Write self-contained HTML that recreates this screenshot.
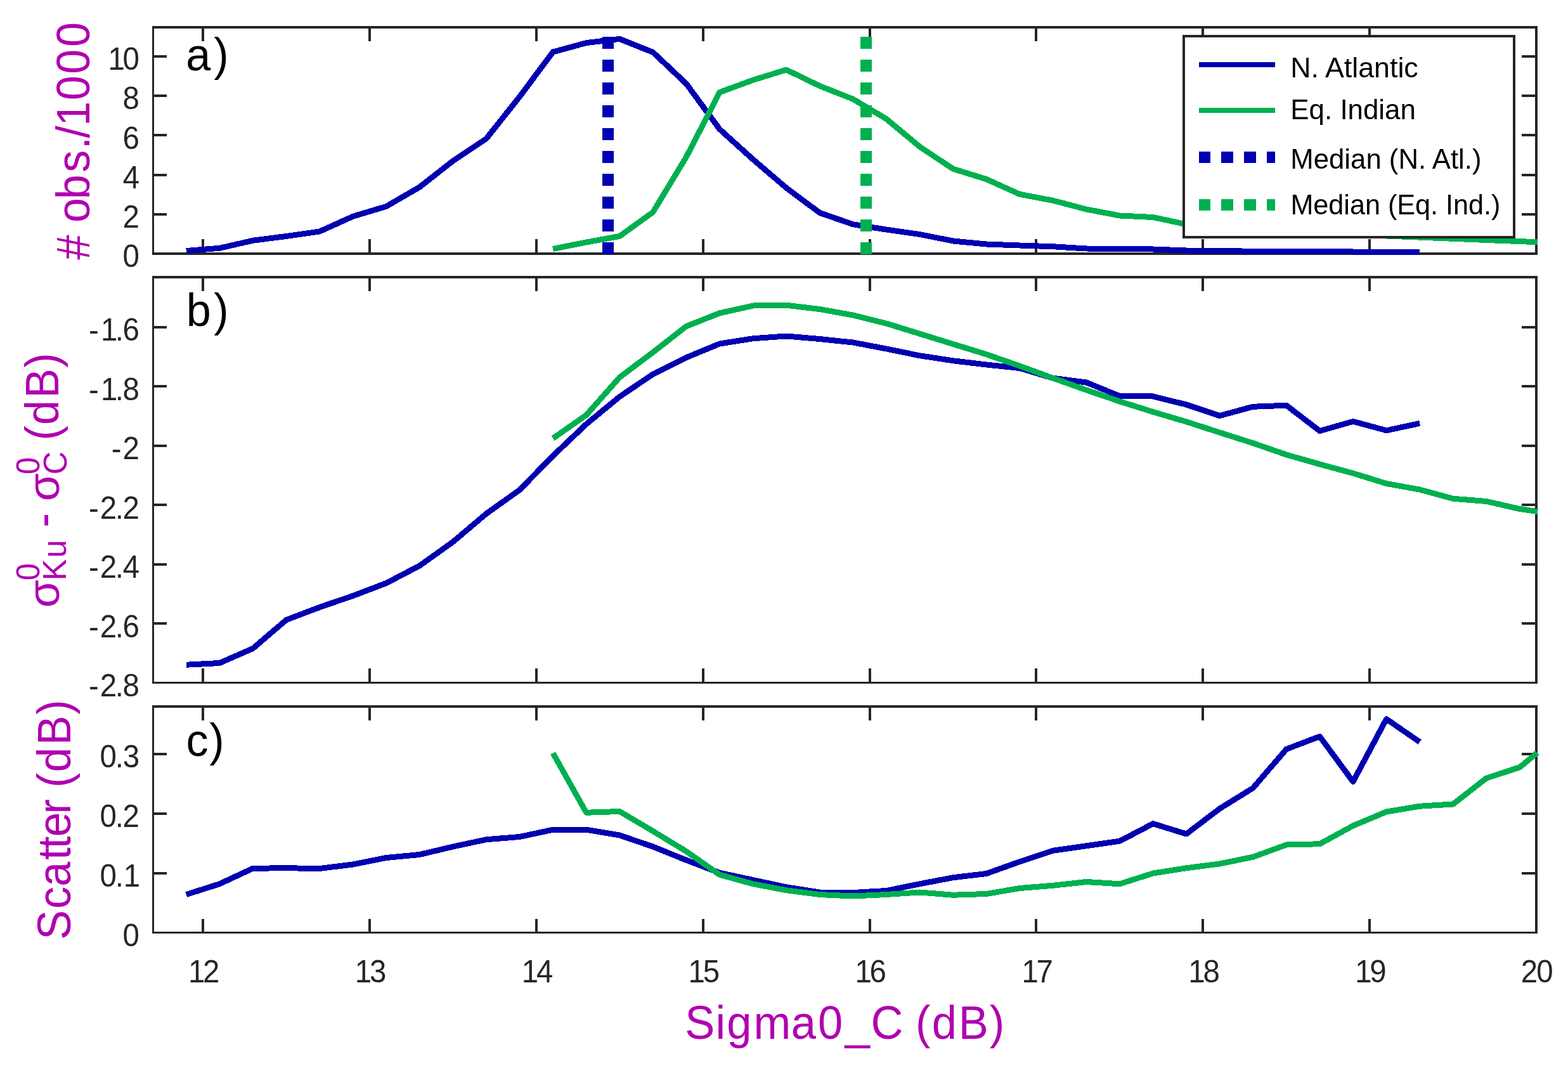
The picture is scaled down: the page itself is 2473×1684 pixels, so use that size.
<!DOCTYPE html>
<html lang="en">
<head>
<meta charset="utf-8">
<title>Sigma0 Ku-C difference: N. Atlantic vs Eq. Indian</title>
<style>
html,body{margin:0;padding:0;background:#fff;}
body{width:2473px;height:1684px;overflow:hidden;font-family:'Liberation Sans', sans-serif;}
svg{display:block;}
</style>
</head>
<body>
<svg xmlns="http://www.w3.org/2000/svg" width="2473" height="1684" viewBox="0 0 2473 1684">
<rect x="0" y="0" width="2473" height="1684" fill="#ffffff"/>
<g shape-rendering="crispEdges">
<rect x="240" y="41" width="2185" height="4" fill="#262626"/>
<rect x="240" y="398" width="2185" height="4" fill="#262626"/>
<rect x="240" y="41" width="3" height="361" fill="#262626"/>
<rect x="2421" y="41" width="4" height="361" fill="#262626"/>
<rect x="318" y="41" width="4" height="24" fill="#262626"/>
<rect x="318" y="377" width="4" height="25" fill="#262626"/>
<rect x="581" y="41" width="4" height="24" fill="#262626"/>
<rect x="581" y="377" width="4" height="25" fill="#262626"/>
<rect x="844" y="41" width="4" height="24" fill="#262626"/>
<rect x="844" y="377" width="4" height="25" fill="#262626"/>
<rect x="1107" y="41" width="4" height="24" fill="#262626"/>
<rect x="1107" y="377" width="4" height="25" fill="#262626"/>
<rect x="1370" y="41" width="4" height="24" fill="#262626"/>
<rect x="1370" y="377" width="4" height="25" fill="#262626"/>
<rect x="1632" y="41" width="4" height="24" fill="#262626"/>
<rect x="1632" y="377" width="4" height="25" fill="#262626"/>
<rect x="1895" y="41" width="4" height="24" fill="#262626"/>
<rect x="1895" y="377" width="4" height="25" fill="#262626"/>
<rect x="2158" y="41" width="4" height="24" fill="#262626"/>
<rect x="2158" y="377" width="4" height="25" fill="#262626"/>
<rect x="240" y="336" width="23" height="4" fill="#262626"/>
<rect x="2400" y="336" width="25" height="4" fill="#262626"/>
<rect x="240" y="274" width="23" height="4" fill="#262626"/>
<rect x="2400" y="274" width="25" height="4" fill="#262626"/>
<rect x="240" y="211" width="23" height="4" fill="#262626"/>
<rect x="2400" y="211" width="25" height="4" fill="#262626"/>
<rect x="240" y="149" width="23" height="4" fill="#262626"/>
<rect x="2400" y="149" width="25" height="4" fill="#262626"/>
<rect x="240" y="87" width="23" height="4" fill="#262626"/>
<rect x="2400" y="87" width="25" height="4" fill="#262626"/>
<rect x="240" y="435" width="2185" height="4" fill="#262626"/>
<rect x="240" y="1075" width="2185" height="3" fill="#262626"/>
<rect x="240" y="435" width="3" height="643" fill="#262626"/>
<rect x="2421" y="435" width="4" height="643" fill="#262626"/>
<rect x="318" y="435" width="4" height="24" fill="#262626"/>
<rect x="318" y="1054" width="4" height="24" fill="#262626"/>
<rect x="581" y="435" width="4" height="24" fill="#262626"/>
<rect x="581" y="1054" width="4" height="24" fill="#262626"/>
<rect x="844" y="435" width="4" height="24" fill="#262626"/>
<rect x="844" y="1054" width="4" height="24" fill="#262626"/>
<rect x="1107" y="435" width="4" height="24" fill="#262626"/>
<rect x="1107" y="1054" width="4" height="24" fill="#262626"/>
<rect x="1370" y="435" width="4" height="24" fill="#262626"/>
<rect x="1370" y="1054" width="4" height="24" fill="#262626"/>
<rect x="1632" y="435" width="4" height="24" fill="#262626"/>
<rect x="1632" y="1054" width="4" height="24" fill="#262626"/>
<rect x="1895" y="435" width="4" height="24" fill="#262626"/>
<rect x="1895" y="1054" width="4" height="24" fill="#262626"/>
<rect x="2158" y="435" width="4" height="24" fill="#262626"/>
<rect x="2158" y="1054" width="4" height="24" fill="#262626"/>
<rect x="240" y="514" width="23" height="4" fill="#262626"/>
<rect x="2400" y="514" width="25" height="4" fill="#262626"/>
<rect x="240" y="607" width="23" height="4" fill="#262626"/>
<rect x="2400" y="607" width="25" height="4" fill="#262626"/>
<rect x="240" y="701" width="23" height="4" fill="#262626"/>
<rect x="2400" y="701" width="25" height="4" fill="#262626"/>
<rect x="240" y="794" width="23" height="4" fill="#262626"/>
<rect x="2400" y="794" width="25" height="4" fill="#262626"/>
<rect x="240" y="888" width="23" height="4" fill="#262626"/>
<rect x="2400" y="888" width="25" height="4" fill="#262626"/>
<rect x="240" y="981" width="23" height="4" fill="#262626"/>
<rect x="2400" y="981" width="25" height="4" fill="#262626"/>
<rect x="240" y="1112" width="2185" height="4" fill="#262626"/>
<rect x="240" y="1469" width="2185" height="3" fill="#262626"/>
<rect x="240" y="1112" width="3" height="360" fill="#262626"/>
<rect x="2421" y="1112" width="4" height="360" fill="#262626"/>
<rect x="318" y="1112" width="4" height="24" fill="#262626"/>
<rect x="318" y="1449" width="4" height="23" fill="#262626"/>
<rect x="581" y="1112" width="4" height="24" fill="#262626"/>
<rect x="581" y="1449" width="4" height="23" fill="#262626"/>
<rect x="844" y="1112" width="4" height="24" fill="#262626"/>
<rect x="844" y="1449" width="4" height="23" fill="#262626"/>
<rect x="1107" y="1112" width="4" height="24" fill="#262626"/>
<rect x="1107" y="1449" width="4" height="23" fill="#262626"/>
<rect x="1370" y="1112" width="4" height="24" fill="#262626"/>
<rect x="1370" y="1449" width="4" height="23" fill="#262626"/>
<rect x="1632" y="1112" width="4" height="24" fill="#262626"/>
<rect x="1632" y="1449" width="4" height="23" fill="#262626"/>
<rect x="1895" y="1112" width="4" height="24" fill="#262626"/>
<rect x="1895" y="1449" width="4" height="23" fill="#262626"/>
<rect x="2158" y="1112" width="4" height="24" fill="#262626"/>
<rect x="2158" y="1449" width="4" height="23" fill="#262626"/>
<rect x="240" y="1375" width="23" height="4" fill="#262626"/>
<rect x="2400" y="1375" width="25" height="4" fill="#262626"/>
<rect x="240" y="1281" width="23" height="4" fill="#262626"/>
<rect x="2400" y="1281" width="25" height="4" fill="#262626"/>
<rect x="240" y="1187" width="23" height="4" fill="#262626"/>
<rect x="2400" y="1187" width="25" height="4" fill="#262626"/>
</g>
<defs>
<clipPath id="clipa"><rect x="240" y="41" width="2192" height="361"/></clipPath>
<clipPath id="clipb"><rect x="240" y="435" width="2192" height="643"/></clipPath>
<clipPath id="clipc"><rect x="240" y="1112" width="2192" height="360"/></clipPath>
</defs>
<g clip-path="url(#clipa)" shape-rendering="crispEdges">
<polyline points="293.71,395.50 346.29,391.25 398.87,379.25 451.45,372.50 504.03,365.00 556.61,341.25 609.19,325.50 661.77,295.00 714.35,253.75 766.93,218.75 819.51,152.50 872.09,82.00 924.67,67.60 977.25,61.40 1029.83,82.40 1082.41,132.00 1134.99,203.75 1187.57,251.25 1240.15,296.25 1292.73,335.50 1345.31,353.75 1397.89,362.00 1450.47,369.50 1503.05,380.00 1555.63,385.00 1608.21,387.00 1660.79,388.75 1713.37,392.00 1765.95,392.50 1818.53,393.00 1871.11,395.00 1923.69,395.50 1976.27,396.25 2028.85,396.50 2081.43,396.75 2134.01,397.00 2186.59,397.25 2239.17,397.50" fill="none" stroke="#0000b0" stroke-width="9.0" stroke-linejoin="round" stroke-linecap="butt" />
<polyline points="872.09,392.50 924.67,382.00 977.25,372.50 1029.83,334.50 1082.41,247.50 1134.99,145.50 1187.57,126.25 1240.15,110.00 1292.73,135.50 1345.31,156.25 1397.89,187.50 1450.47,231.25 1503.05,266.25 1555.63,282.50 1608.21,306.25 1660.79,316.25 1713.37,330.00 1765.95,340.00 1818.53,342.50 1871.11,353.75 1923.69,357.50 1976.27,361.00 2028.85,364.00 2081.43,367.00 2134.01,369.50 2186.59,372.00 2239.17,374.15 2291.75,376.30 2344.33,378.50 2396.91,380.60 2424.80,381.70" fill="none" stroke="#00b050" stroke-width="9.0" stroke-linejoin="round" stroke-linecap="butt" />
<rect x="949.90" y="58.00" width="18" height="18.8" fill="#0000b0"/>
<rect x="949.90" y="93.97" width="18" height="18.8" fill="#0000b0"/>
<rect x="949.90" y="129.94" width="18" height="18.8" fill="#0000b0"/>
<rect x="949.90" y="165.91" width="18" height="18.8" fill="#0000b0"/>
<rect x="949.90" y="201.88" width="18" height="18.8" fill="#0000b0"/>
<rect x="949.90" y="237.85" width="18" height="18.8" fill="#0000b0"/>
<rect x="949.90" y="273.82" width="18" height="18.8" fill="#0000b0"/>
<rect x="949.90" y="309.79" width="18" height="18.8" fill="#0000b0"/>
<rect x="949.90" y="345.76" width="18" height="18.8" fill="#0000b0"/>
<rect x="949.90" y="381.73" width="18" height="18.8" fill="#0000b0"/>
<rect x="1356.75" y="58.00" width="18" height="18.8" fill="#00b050"/>
<rect x="1356.75" y="93.97" width="18" height="18.8" fill="#00b050"/>
<rect x="1356.75" y="129.94" width="18" height="18.8" fill="#00b050"/>
<rect x="1356.75" y="165.91" width="18" height="18.8" fill="#00b050"/>
<rect x="1356.75" y="201.88" width="18" height="18.8" fill="#00b050"/>
<rect x="1356.75" y="237.85" width="18" height="18.8" fill="#00b050"/>
<rect x="1356.75" y="273.82" width="18" height="18.8" fill="#00b050"/>
<rect x="1356.75" y="309.79" width="18" height="18.8" fill="#00b050"/>
<rect x="1356.75" y="345.76" width="18" height="18.8" fill="#00b050"/>
<rect x="1356.75" y="381.73" width="18" height="18.8" fill="#00b050"/>
</g>
<g clip-path="url(#clipb)" shape-rendering="crispEdges">
<polyline points="293.71,1048.25 346.29,1045.50 398.87,1022.50 451.45,977.50 504.03,957.50 556.61,939.50 609.19,919.50 661.77,892.00 714.35,854.50 766.93,810.00 819.51,772.50 872.09,718.75 924.67,668.75 977.25,625.50 1029.83,590.00 1082.41,563.75 1134.99,542.00 1187.57,533.75 1240.15,530.00 1292.73,534.50 1345.31,540.00 1397.89,550.00 1450.47,560.75 1503.05,568.75 1555.63,575.00 1608.21,580.50 1660.79,596.25 1713.37,603.00 1765.95,624.50 1818.53,625.00 1871.11,638.00 1923.69,655.50 1976.27,641.25 2028.85,639.25 2081.43,679.50 2134.01,664.50 2186.59,678.75 2239.17,667.50" fill="none" stroke="#0000b0" stroke-width="9.0" stroke-linejoin="round" stroke-linecap="butt" />
<polyline points="872.09,691.25 924.67,654.50 977.25,595.00 1029.83,555.50 1082.41,514.50 1134.99,493.75 1187.57,482.00 1240.15,481.25 1292.73,487.50 1345.31,497.00 1397.89,510.00 1450.47,526.25 1503.05,542.50 1555.63,558.75 1608.21,577.00 1660.79,596.25 1713.37,615.00 1765.95,633.00 1818.53,649.50 1871.11,665.00 1923.69,682.00 1976.27,698.75 2028.85,717.00 2081.43,732.00 2134.01,746.25 2186.59,762.50 2239.17,772.00 2291.75,786.25 2344.33,790.50 2396.91,802.50 2425.10,806.60" fill="none" stroke="#00b050" stroke-width="9.0" stroke-linejoin="round" stroke-linecap="butt" />
</g>
<g clip-path="url(#clipc)" shape-rendering="crispEdges">
<polyline points="293.71,1410.50 346.29,1393.75 398.87,1369.25 451.45,1368.75 504.03,1369.50 556.61,1363.00 609.19,1352.50 661.77,1347.50 714.35,1335.00 766.93,1323.75 819.51,1319.50 872.09,1308.25 924.67,1308.25 977.25,1317.00 1029.83,1335.00 1082.41,1356.25 1134.99,1376.25 1187.57,1387.50 1240.15,1398.75 1292.73,1407.00 1345.31,1407.50 1397.89,1404.50 1450.47,1393.75 1503.05,1383.75 1555.63,1377.50 1608.21,1358.75 1660.79,1341.25 1713.37,1333.75 1765.95,1326.25 1818.53,1298.75 1871.11,1315.00 1923.69,1275.00 1976.27,1242.50 2028.85,1181.25 2081.43,1161.25 2134.01,1232.50 2186.59,1133.75 2239.17,1170.00" fill="none" stroke="#0000b0" stroke-width="9.0" stroke-linejoin="round" stroke-linecap="butt" />
<polyline points="872.09,1187.50 924.67,1281.25 977.25,1279.50 1029.83,1310.50 1082.41,1342.50 1134.99,1379.25 1187.57,1393.75 1240.15,1403.75 1292.73,1410.50 1345.31,1413.00 1397.89,1410.50 1450.47,1407.00 1503.05,1411.25 1555.63,1409.50 1608.21,1400.50 1660.79,1396.25 1713.37,1390.50 1765.95,1393.75 1818.53,1377.00 1871.11,1368.75 1923.69,1362.00 1976.27,1351.25 2028.85,1332.00 2081.43,1330.75 2134.01,1302.00 2186.59,1280.00 2239.17,1271.25 2291.75,1268.00 2344.33,1227.00 2396.91,1209.80 2424.60,1186.90" fill="none" stroke="#00b050" stroke-width="9.0" stroke-linejoin="round" stroke-linecap="butt" />
</g>
<g shape-rendering="crispEdges">
<rect x="1865" y="55" width="525" height="321" fill="#262626"/>
<rect x="1869" y="59" width="517" height="313" fill="#ffffff"/>
<rect x="1891" y="97.5" width="120" height="8.5" fill="#0000b0"/>
<rect x="1891" y="169.5" width="120" height="8.5" fill="#00b050"/>
<rect x="1891" y="239.2" width="18" height="18" fill="#0000b0"/>
<rect x="1926" y="239.2" width="19" height="18" fill="#0000b0"/>
<rect x="1962" y="239.2" width="19" height="18" fill="#0000b0"/>
<rect x="1998" y="239.2" width="13" height="18" fill="#0000b0"/>
<rect x="1891" y="314.1" width="18" height="18" fill="#00b050"/>
<rect x="1926" y="314.1" width="19" height="18" fill="#00b050"/>
<rect x="1962" y="314.1" width="19" height="18" fill="#00b050"/>
<rect x="1998" y="314.1" width="13" height="18" fill="#00b050"/>
</g>
<g font-family="'Liberation Sans', sans-serif" xml:space="preserve">
<text transform="translate(193.52,421.20) scale(0.9600,1.0000)" x="0.00" y="0" font-size="49.4" fill="#262626">0</text>
<text transform="translate(193.57,359.00) scale(0.9600,1.0000)" x="0.00" y="0" font-size="49.4" fill="#262626">2</text>
<text transform="translate(193.76,296.80) scale(0.9600,1.0000)" x="0.00" y="0" font-size="49.4" fill="#262626">4</text>
<text transform="translate(193.42,234.60) scale(0.9600,1.0000)" x="0.00" y="0" font-size="49.4" fill="#262626">6</text>
<text transform="translate(193.57,172.40) scale(0.9600,1.0000)" x="0.00" y="0" font-size="49.4" fill="#262626">8</text>
<text transform="translate(170.43,110.20) scale(0.9600,1.0000)" x="0.00 24.06" y="0" font-size="49.4" fill="#262626">10</text>
<text transform="translate(139.88,537.10) scale(0.9600,1.0000)" x="0.00 19.84 43.57 55.78" y="0" font-size="49.4" fill="#262626">-1.6</text>
<text transform="translate(139.88,630.60) scale(0.9600,1.0000)" x="0.00 19.84 43.57 55.93" y="0" font-size="49.4" fill="#262626">-1.8</text>
<text transform="translate(175.78,724.10) scale(0.9600,1.0000)" x="0.00 18.53" y="0" font-size="49.4" fill="#262626">-2</text>
<text transform="translate(139.88,817.60) scale(0.9600,1.0000)" x="0.00 18.53 43.57 55.93" y="0" font-size="49.4" fill="#262626">-2.2</text>
<text transform="translate(139.88,911.10) scale(0.9600,1.0000)" x="0.00 18.53 43.57 56.12" y="0" font-size="49.4" fill="#262626">-2.4</text>
<text transform="translate(139.88,1004.60) scale(0.9600,1.0000)" x="0.00 18.53 43.57 55.78" y="0" font-size="49.4" fill="#262626">-2.6</text>
<text transform="translate(139.88,1098.10) scale(0.9600,1.0000)" x="0.00 18.53 43.57 55.93" y="0" font-size="49.4" fill="#262626">-2.8</text>
<text transform="translate(193.52,1491.60) scale(0.9600,1.0000)" x="0.00" y="0" font-size="49.4" fill="#262626">0</text>
<text transform="translate(157.62,1397.75) scale(0.9600,1.0000)" x="0.00 25.09 38.76" y="0" font-size="49.4" fill="#262626">0.1</text>
<text transform="translate(157.62,1303.90) scale(0.9600,1.0000)" x="0.00 25.09 37.45" y="0" font-size="49.4" fill="#262626">0.2</text>
<text transform="translate(157.62,1210.05) scale(0.9600,1.0000)" x="0.00 25.09 37.59" y="0" font-size="49.4" fill="#262626">0.3</text>
<text transform="translate(296.88,1549.00) scale(0.9600,1.0000)" x="0.00 24.10" y="0" font-size="49.4" fill="#262626">12</text>
<text transform="translate(559.78,1549.00) scale(0.9600,1.0000)" x="0.00 24.25" y="0" font-size="49.4" fill="#262626">13</text>
<text transform="translate(822.68,1549.00) scale(0.9600,1.0000)" x="0.00 24.30" y="0" font-size="49.4" fill="#262626">14</text>
<text transform="translate(1085.58,1549.00) scale(0.9600,1.0000)" x="0.00 24.15" y="0" font-size="49.4" fill="#262626">15</text>
<text transform="translate(1348.48,1549.00) scale(0.9600,1.0000)" x="0.00 23.96" y="0" font-size="49.4" fill="#262626">16</text>
<text transform="translate(1611.38,1549.00) scale(0.9600,1.0000)" x="0.00 24.06" y="0" font-size="49.4" fill="#262626">17</text>
<text transform="translate(1874.28,1549.00) scale(0.9600,1.0000)" x="0.00 24.10" y="0" font-size="49.4" fill="#262626">18</text>
<text transform="translate(2137.18,1549.00) scale(0.9600,1.0000)" x="0.00 24.15" y="0" font-size="49.4" fill="#262626">19</text>
<text transform="translate(2398.82,1549.00) scale(0.9600,1.0000)" x="0.00 25.37" y="0" font-size="49.4" fill="#262626">20</text>
<text transform="translate(140.90,409.54) rotate(-90) scale(0.9350,1.0000)" x="0.00 41.71 62.57 101.90 147.43 186.41 205.18 225.46 268.70 313.24 358.91" y="0" font-size="75" fill="#b000b0"># obs./1000</text>
<text transform="translate(110.90,1481.72) rotate(-90) scale(0.9350,1.0000)" x="0.00 52.12 89.74 134.75 153.58 173.58 212.06 237.04 256.49 282.62 327.93 379.71" y="0" font-size="75" fill="#b000b0">Scatter (dB)</text>
<text transform="translate(1080.25,1637.60) scale(0.9400,1.0000)" x="0.00 51.21 70.18 115.16 178.21 223.17 268.66 311.99 366.16 386.88 414.28 459.06 511.06" y="0" font-size="75" fill="#b000b0">Sigma0_C (dB)</text>
<text transform="translate(92.60,958.29) rotate(-90) scale(0.9500,0.9300)" x="0.00" y="0" font-size="75" fill="#b000b0">σ</text>
<text transform="translate(62.20,915.22) rotate(-90) scale(0.9300,1.0000)" x="0.00" y="0" font-size="52.5" fill="#b000b0">0</text>
<text transform="translate(104.20,915.54) rotate(-90) scale(0.9700,1.0000)" x="0.00 37.20" y="0" font-size="52.5" fill="#b000b0">Ku</text>
<text transform="translate(93.00,831.41) rotate(-90) scale(0.9000,1.0000)" x="0.00" y="0" font-size="75" fill="#b000b0">-</text>
<text transform="translate(92.60,790.14) rotate(-90) scale(0.9500,0.9300)" x="0.00" y="0" font-size="75" fill="#b000b0">σ</text>
<text transform="translate(62.20,747.92) rotate(-90) scale(0.9300,1.0000)" x="0.00" y="0" font-size="52.5" fill="#b000b0">0</text>
<text transform="translate(104.60,748.20) rotate(-90) scale(0.9600,1.0000)" x="0.00" y="0" font-size="52.5" fill="#b000b0">C</text>
<text transform="translate(92.00,694.55) rotate(-90) scale(0.9350,1.0000)" x="0.00 26.40 71.39 122.84" y="0" font-size="75" fill="#b000b0">(dB)</text>
<text transform="translate(293.25,111.30) scale(0.9600,1.0000)" x="0.00 45.74" y="0" font-size="73" fill="#000">a)</text>
<text transform="translate(293.80,513.90) scale(0.9600,1.0000)" x="0.00 45.17" y="0" font-size="73" fill="#000">b)</text>
<text transform="translate(293.57,1191.50) scale(0.9600,1.0000)" x="0.00 38.17" y="0" font-size="73" fill="#000">c)</text>
<text transform="translate(2035.26,122.00) scale(1.0103,1)" font-size="44.3" fill="#000">N. Atlantic</text>
<text transform="translate(2035.34,188.00) scale(0.9907,1)" font-size="44.3" fill="#000">Eq. Indian</text>
<text transform="translate(2035.35,266.00) scale(0.9866,1)" font-size="44.3" fill="#000">Median (N. Atl.)</text>
<text transform="translate(2035.40,337.80) scale(0.9745,1)" font-size="44.3" fill="#000">Median (Eq. Ind.)</text>
</g>
</svg>
</body>
</html>
